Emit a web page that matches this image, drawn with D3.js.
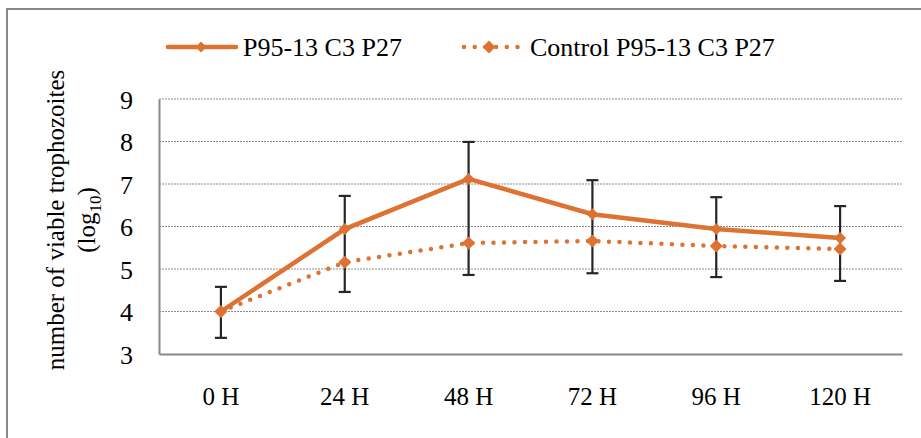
<!DOCTYPE html>
<html>
<head>
<meta charset="utf-8">
<script src="https://cdn.jsdelivr.net/npm/d3@7"></script>
<style>
  body { margin: 0; background: #fff; }
  svg text { font-family: "Times New Roman", "Liberation Serif", serif; fill: #000; }
</style>
</head>
<body>
<div id="chart"></div>
<script>
var categories = ["0 H", "24 H", "48 H", "72 H", "96 H", "120 H"];
var treated = [4.0, 5.94, 7.12, 6.29, 5.94, 5.73];
var control = [4.0, 5.16, 5.61, 5.66, 5.54, 5.47];
var treatedErr = [0.58, 0.78, 0.87, 0.80, 0.75, 0.75];   // upper bars
var controlErr = [0.62, 0.70, 0.75, 0.76, 0.73, 0.75];   // lower bars
var yTicks = [3, 4, 5, 6, 7, 8, 9];
var seriesNames = ["P95-13 C3 P27", "Control P95-13 C3 P27"];

var W = 921, H = 438;
var margins = { top: 99, left: 159, right: 19, bottom: 84 };
var width = W - margins.left - margins.right;
var height = H - margins.top - margins.bottom;
var orange = '#DD7233';
var serif = '"Times New Roman", "Liberation Serif", serif';

var svg = d3.select('#chart').append('svg')
        .attr('width', W)
        .attr('height', H);

// outer chart border (runs off the right / bottom of the picture)
svg.append('rect')
        .attr('x', 7).attr('y', 9)
        .attr('width', 940).attr('height', 460)
        .attr('fill', 'none')
        .attr('stroke', '#888')
        .attr('stroke-width', 2);

var xScale = d3.scaleBand().domain(categories).range([0, width]);
var yScale = d3.scaleLinear().domain([3, 9]).range([height, 0]);
var cx = function(i){ return xScale(categories[i]) + xScale.bandwidth() / 2; };

var g = svg.append('g')
        .attr('transform', 'translate(' + margins.left + ',' + margins.top + ')');

// gridlines
g.selectAll('line.grid')
        .data(yTicks.filter(function(d){ return d > 3; }))
        .enter().append('line')
        .attr('x1', 0).attr('x2', width)
        .attr('y1', function(d){ return yScale(d); })
        .attr('y2', function(d){ return yScale(d); })
        .attr('stroke', '#8c8c8c')
        .attr('stroke-width', 1)
        .attr('stroke-dasharray', '2 1');

// axes
var yAxis = d3.axisLeft(yScale).tickValues(yTicks).tickFormat(d3.format('d')).tickSize(0).tickPadding(26);
var yGuide = g.append('g').call(yAxis).attr('font-family', serif).attr('font-size', 26);
yGuide.select('.domain').attr('stroke', '#888').attr('stroke-width', 2);
yGuide.selectAll('text').attr('dy', '0.36em');

var xAxis = d3.axisBottom(xScale).tickSize(0).tickPadding(33);
var xGuide = g.append('g').attr('transform', 'translate(0,' + height + ')').call(xAxis)
        .attr('font-family', serif).attr('font-size', 25);
xGuide.select('.domain').attr('stroke', '#888').attr('stroke-width', 2);
xGuide.selectAll('text').attr('dy', '0.71em');

// error bars
var capW = 6;
categories.forEach(function(c, i){
        var top = yScale(treated[i] + treatedErr[i]);
        var bot = yScale(control[i] - controlErr[i]);
        var eb = g.append('g').attr('stroke', '#262626').attr('stroke-width', 2.2);
        eb.append('line').attr('x1', cx(i)).attr('x2', cx(i)).attr('y1', top).attr('y2', bot);
        eb.append('line').attr('x1', cx(i) - capW).attr('x2', cx(i) + capW).attr('y1', top).attr('y2', top);
        eb.append('line').attr('x1', cx(i) - capW).attr('x2', cx(i) + capW).attr('y1', bot).attr('y2', bot);
});

var line = d3.line()
        .x(function(d, i){ return cx(i); })
        .y(function(d){ return yScale(d); });

var diamond = function(x, y, r){
        return 'M' + x + ',' + (y - r) + 'L' + (x + r) + ',' + y + 'L' + x + ',' + (y + r) + 'L' + (x - r) + ',' + y + 'Z';
};

g.append('path').datum(control)
        .attr('d', line)
        .attr('fill', 'none')
        .attr('stroke', orange)
        .attr('stroke-width', 4.5)
        .attr('stroke-linecap', 'round')
        .attr('stroke-dasharray', '0 10.5');

g.append('path').datum(treated)
        .attr('d', line)
        .attr('fill', 'none')
        .attr('stroke', orange)
        .attr('stroke-width', 4.5);

g.selectAll('path.mc').data(control).enter().append('path')
        .attr('d', function(d, i){ return diamond(cx(i), yScale(d), 6.5); })
        .attr('fill', orange);
g.selectAll('path.mt').data(treated).enter().append('path')
        .attr('d', function(d, i){ return diamond(cx(i), yScale(d), 6); })
        .attr('fill', orange);

// legend
var leg = svg.append('g');
leg.append('line').attr('x1', 168).attr('x2', 236).attr('y1', 47).attr('y2', 47)
        .attr('stroke', orange).attr('stroke-width', 4.5).attr('stroke-linecap', 'round');
leg.append('path').attr('d', diamond(201, 47, 5.5)).attr('fill', orange);
leg.append('text').attr('x', 243).attr('y', 47).attr('dy', '0.35em')
        .style('font-size', '26px').text(seriesNames[0]);

leg.append('line').attr('x1', 464).attr('x2', 518).attr('y1', 47).attr('y2', 47)
        .attr('stroke', orange).attr('stroke-width', 4.5).attr('stroke-linecap', 'round')
        .attr('stroke-dasharray', '0 10.7');
leg.append('path').attr('d', diamond(489, 47, 6.5)).attr('fill', orange);
leg.append('text').attr('x', 530).attr('y', 47).attr('dy', '0.35em')
        .style('font-size', '26px').text(seriesNames[1]);

// y title
var yt = svg.append('text')
        .attr('transform', 'translate(64,220) rotate(-90)')
        .attr('text-anchor', 'middle')
        .style('font-size', '25px');
yt.append('tspan').attr('x', 0).attr('y', 0).text('number of viable trophozoites');
yt.append('tspan').attr('x', 0).attr('y', 31).text('(log');
yt.append('tspan').attr('dy', 6).style('font-size', '17px').text('10');
yt.append('tspan').attr('dy', -6).text(')');
</script>
</body>
</html>
